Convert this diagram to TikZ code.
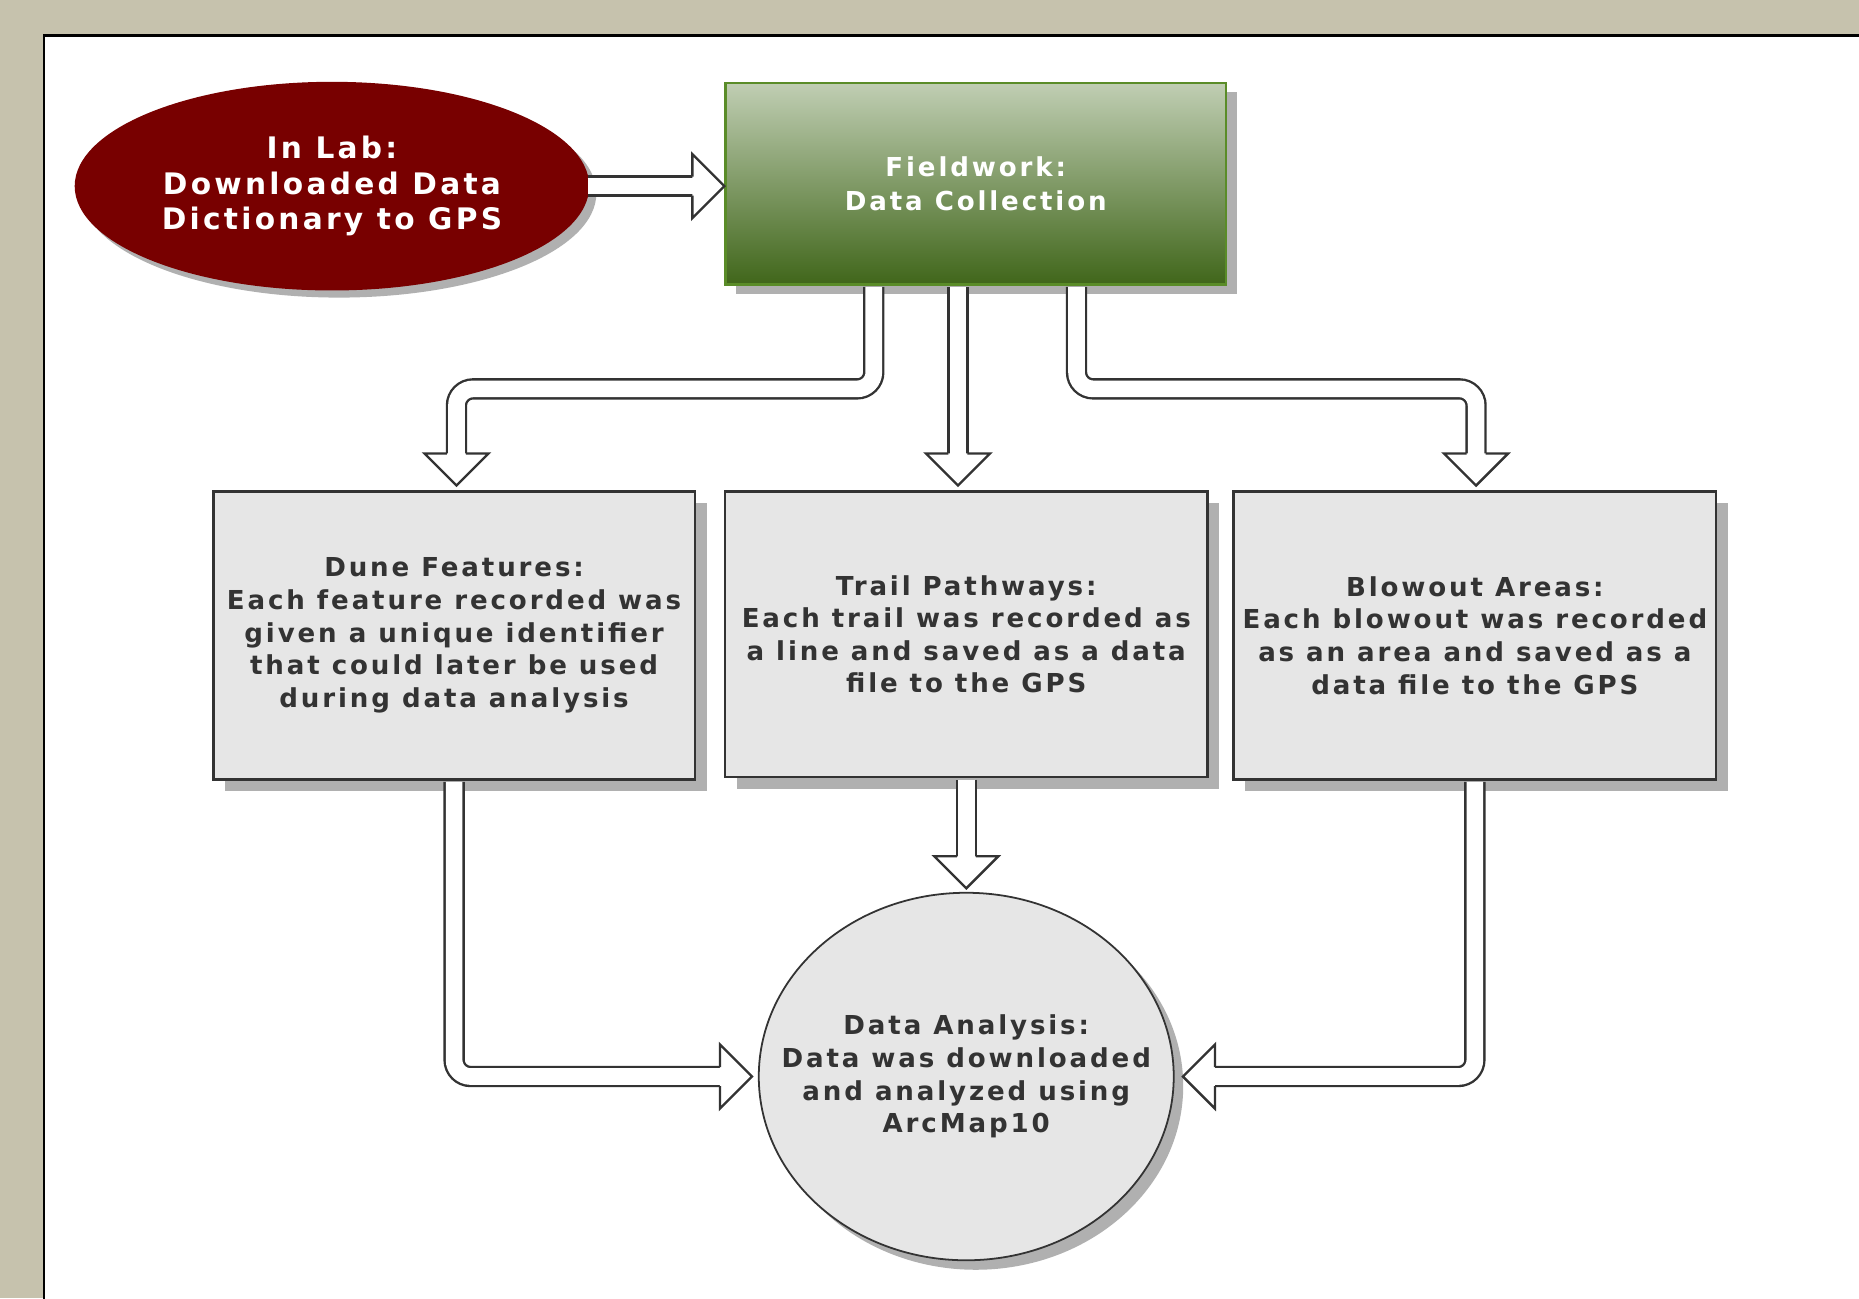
\documentclass[tikz,border=0pt]{standalone}
\usepackage{fontspec}
\setmainfont{DejaVu Sans}[LetterSpace=11]
\usetikzlibrary{shapes.geometric, shadows, calc}

\definecolor{paper}{HTML}{C6C2AD}
\definecolor{labred}{HTML}{780000}
\definecolor{fieldtop}{HTML}{C0CEB3}
\definecolor{fieldbot}{HTML}{40661A}
\definecolor{fieldline}{HTML}{5A8C28}
\definecolor{boxfill}{HTML}{E6E6E6}
\definecolor{ink}{HTML}{333333}
\definecolor{shade}{HTML}{B0B0B0}

\tikzset{
    pipe/.style={draw=ink, line width=2pt, double=white, double distance=14pt, rounded corners=14pt},
    stepbox/.style={rectangle, draw=ink, line width=2pt, fill=boxfill, text=ink, align=center,
        inner sep=0pt, font=\bfseries\fontsize{22}{27.5}\selectfont,
        drop shadow={shadow xshift=10pt, shadow yshift=-10pt, fill=shade, opacity=1}},
}

\newcommand{\openhead}[2]{%
    \filldraw[fill=white, draw=ink, line width=2pt, shift={(#1)}, rotate=#2]
        (-27,8) -- (-27,27) -- (0,0) -- (-27,-27) -- (-27,-8);
}

\begin{document}
\begin{tikzpicture}[x=1pt, y=-1pt]
    \useasboundingbox (0,0) rectangle (1568,1095);
    \fill[paper] (0,0) rectangle (1568,1095);
    \fill[white] (37,30) rectangle (1568,1095);
    \draw[line width=2pt] (1570,30) -- (37,30) -- (37,1097);

    \node (lab) [ellipse, fill=labred, text=white, minimum width=434pt, minimum height=176pt,
        inner sep=0pt, align=center, font=\bfseries\fontsize{25}{30}\selectfont,
        drop shadow={shadow xshift=6pt, shadow yshift=-6pt, fill=shade, opacity=1}]
        at (280,157) {In Lab:\\Downloaded Data\\Dictionary to GPS};
    \node (field) [rectangle, draw=fieldline, line width=2pt, top color=fieldtop, bottom color=fieldbot,
        minimum width=422pt, minimum height=170pt, inner sep=0pt, align=center, text=white,
        font=\bfseries\fontsize{22}{28}\selectfont,
        drop shadow={shadow xshift=9pt, shadow yshift=-8pt, fill=shade, opacity=1}]
        at (823,155) {Fieldwork:\\Data Collection};

    \node (dune) [stepbox, minimum width=406pt, minimum height=243pt] at (383,536)
        {Dune Features:\\Each feature recorded was\\given a unique identifier\\that could later be used\\during data analysis};
    \node (trail) [stepbox, minimum width=407pt, minimum height=241pt] at (815,535)
        {Trail Pathways:\\Each trail was recorded as\\a line and saved as a data\\file to the GPS};
    \node (blow) [stepbox, minimum width=407pt, minimum height=243pt] at (1244,536)
        {Blowout Areas:\\Each blowout was recorded\\as an area and saved as a\\data file to the GPS};

    \node (analysis) [ellipse, draw=ink, line width=1.5pt, fill=boxfill, text=ink, minimum width=350pt,
        minimum height=310pt, inner xsep=-60pt, inner ysep=0pt, align=center,
        font=\bfseries\fontsize{22}{27.5}\selectfont,
        drop shadow={shadow xshift=8pt, shadow yshift=-8pt, fill=shade, opacity=1}]
        at (815,908) {Data Analysis:\\Data was downloaded\\and analyzed using\\ArcMap10};

    \coordinate (tipfield) at (field.west |- lab.east);
    \coordinate (tipdune) at ($(dune.north)+(2,-4)$);
    \coordinate (tiptrail) at ($([xshift=-15pt]field.south |- trail.north)+(0,-4)$);
    \coordinate (tipblow) at ($(blow.north)+(1,-4)$);
    \coordinate (tipmid) at ($(analysis.north)+(0,-3)$);
    \coordinate (tipleft) at ($(analysis.west)+(-5,0)$);
    \coordinate (tipright) at ($(analysis.east)+(7,0)$);

    \draw[pipe] ([xshift=-1.5pt]lab.east) -- ($(tipfield)+(-26,0)$);
    \openhead{tipfield}{0}

    \draw[pipe] ([xshift=-86pt, yshift=-1pt]field.south) -- ++(0,86) -| ($(tipdune)+(0,-26)$);
    \draw[pipe] ([xshift=-15pt, yshift=-1pt]field.south) -- ($(tiptrail)+(0,-26)$);
    \draw[pipe] ([xshift=85pt, yshift=-1pt]field.south) -- ++(0,86) -| ($(tipblow)+(0,-26)$);
    \openhead{tipdune}{-90}
    \openhead{tiptrail}{-90}
    \openhead{tipblow}{-90}

    \draw[pipe] ([yshift=-1pt]dune.south) |- ($(tipleft)+(-26,0)$);
    \draw[pipe] ([yshift=-1pt]tipmid |- trail.south) -- ($(tipmid)+(0,-26)$);
    \draw[pipe] ([yshift=-1pt]blow.south) |- ($(tipright)+(26,0)$);
    \openhead{tipleft}{0}
    \openhead{tipmid}{-90}
    \openhead{tipright}{180}
\end{tikzpicture}
\end{document}
